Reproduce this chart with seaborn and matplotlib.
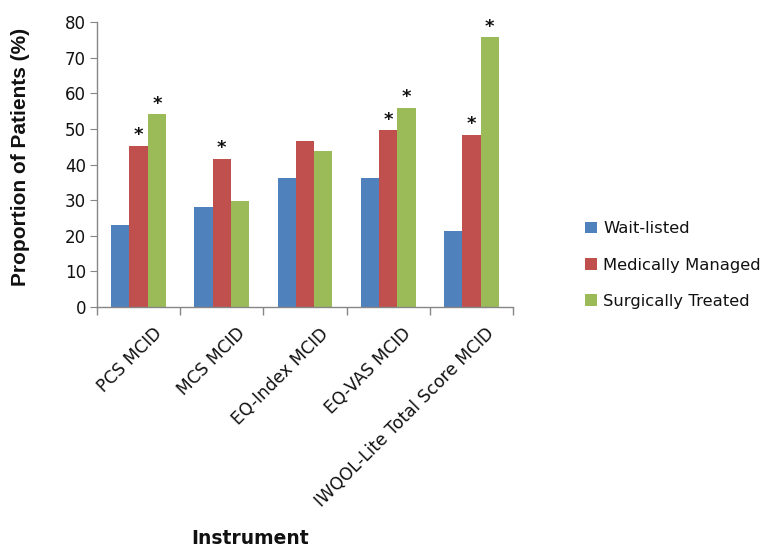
import matplotlib
matplotlib.use("Agg")
import matplotlib.pyplot as plt
import matplotlib.transforms as mtransforms
import seaborn as sns
import pandas as pd

instruments = ["PCS MCID", "MCS MCID", "EQ-Index MCID", "EQ-VAS MCID", "IWQOL-Lite Total Score MCID"]
groups = ["Wait-listed", "Medically Managed", "Surgically Treated"]
wait_listed = [23.1, 28.0, 36.3, 36.3, 21.4]
medically_managed = [45.2, 41.6, 46.5, 49.6, 48.4]
surgically_treated = [54.1, 29.7, 43.9, 55.8, 75.7]
# significance markers (True = asterisk above bar)
sig_medical = [True, True, False, True, True]
sig_surgical = [True, False, False, True, True]

colors = ["#4F81BD", "#C0504D", "#9BBB59"]

rows = []
for g, vals in zip(groups, [wait_listed, medically_managed, surgically_treated]):
    for inst, v in zip(instruments, vals):
        rows.append({"Instrument": inst, "Group": g, "Value": v})
df = pd.DataFrame(rows)

sns.set_style("white")
plt.rcParams['font.family'] = ['DejaVu Sans']
plt.rcParams['text.color'] = '#111111'

fig = plt.figure(figsize=(7.68, 5.51), dpi=100)
ax = fig.add_axes([0.1263, 0.4428, 0.668 - 0.1263, 0.960 - 0.4428])

sns.barplot(data=df, x="Instrument", y="Value", hue="Group", order=instruments,
            hue_order=groups, palette=colors, width=0.66, saturation=1,
            edgecolor="none", ax=ax, errorbar=None)

# asterisks
for container, sig in zip(ax.containers[1:], [sig_medical, sig_surgical]):
    for bar, s in zip(container, sig):
        if s:
            ax.text(bar.get_x() + bar.get_width() / 2, bar.get_height() + 0.5, "*",
                    ha="center", va="bottom", fontsize=13, fontweight="bold", color="#111111")

ax.set_ylim(0, 80)
ax.set_yticks(range(0, 81, 10))
ax.set_xlim(-0.5, len(instruments) - 0.5)
for s in ["top", "right"]:
    ax.spines[s].set_visible(False)
for s in ["left", "bottom"]:
    ax.spines[s].set_color("#868686")
    ax.spines[s].set_linewidth(1.0)

# category boundary ticks
ax.set_xticks(range(len(instruments)))
ax.set_xticks([i + 0.5 for i in range(-1, len(instruments))], minor=True)
ax.tick_params(axis="x", which="minor", bottom=True, length=6, color="#868686", width=1)
ax.tick_params(axis="x", which="major", bottom=False, length=0, pad=4)
ax.tick_params(axis="y", length=5, color="#868686", left=True, labelsize=12, pad=3,
               labelcolor="#111111")
ax.set_xticklabels(instruments, rotation=45, ha="right", rotation_mode="anchor",
                   fontsize=12.3, color="#111111")
offset = mtransforms.ScaledTranslation(0.14, -0.12, fig.dpi_scale_trans)
for lbl in ax.get_xticklabels():
    lbl.set_transform(lbl.get_transform() + offset)

ax.set_ylabel("Proportion of Patients (%)", fontsize=15, fontweight="bold",
              family=["Liberation Sans"], color="#111111")
ax.yaxis.set_label_coords(-0.16, 0.525)
ax.set_xlabel("")
fig.text(0.325, 0.005, "Instrument", fontsize=13.5, fontweight="bold", ha="center",
         va="bottom", color="#111111")

handles, labels = ax.get_legend_handles_labels()
leg = ax.legend(handles, labels, loc="center left", bbox_to_anchor=(0.743, 0.519),
                bbox_transform=fig.transFigure, frameon=False, fontsize=11.8,
                handlelength=0.7, handleheight=0.7, handletextpad=0.4, labelspacing=1.3)
for t in leg.get_texts():
    t.set_color("#111111")

fig.savefig("out.png", dpi=100)
